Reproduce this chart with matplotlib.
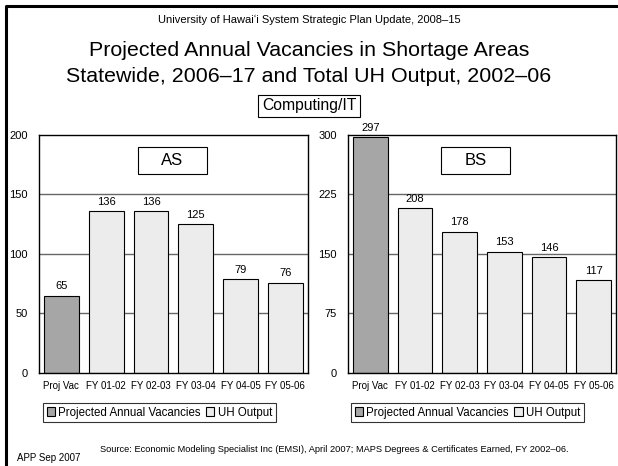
import matplotlib
matplotlib.use("Agg")
import matplotlib.pyplot as plt
from matplotlib.patches import Patch, Rectangle
from matplotlib.lines import Line2D

plt.rcParams['font.family'] = ['Liberation Sans', 'DejaVu Sans']

categories = ["Proj Vac", "FY 01-02", "FY 02-03", "FY 03-04", "FY 04-05", "FY 05-06"]
as_values = [65, 136, 136, 125, 79, 76]
bs_values = [297, 208, 178, 153, 146, 117]
as_ticks = [0, 50, 100, 150, 200]
bs_ticks = [0, 75, 150, 225, 300]

VAC_COLOR = "#a6a6a6"
UH_COLOR = "#ececec"
GRID_COLOR = "#666666"

fig = plt.figure(figsize=(6.18, 4.66), dpi=100)


def draw_panel(rect, values, ticks, label, box_x):
    ax = fig.add_axes(rect)
    colors = [VAC_COLOR] + [UH_COLOR] * (len(values) - 1)
    x = range(len(values))
    for t in ticks[1:-1]:
        ax.axhline(t, color=GRID_COLOR, lw=1, zorder=0)
    ax.bar(x, values, width=0.78, color=colors, edgecolor="black", linewidth=0.8, zorder=2)
    for i, v in enumerate(values):
        ax.text(i, v + ticks[-1] * 0.018, str(v), ha="center", va="bottom", fontsize=8)
    ax.set_xlim(-0.5, len(values) - 0.5)
    ax.set_ylim(ticks[0], ticks[-1])
    ax.set_yticks(ticks)
    ax.set_xticks(list(x))
    ax.set_xticklabels(categories, fontsize=7)
    ax.tick_params(axis="y", labelsize=8, length=0, pad=8)
    ax.tick_params(axis="x", length=0, pad=6)
    for s in ax.spines.values():
        s.set_color("black")
        s.set_linewidth(1)
    ax.add_patch(Rectangle((box_x, 0.836), 0.257, 0.114, transform=ax.transAxes,
                           facecolor="white", edgecolor="black", lw=0.8, zorder=3))
    ax.text(box_x + 0.1285, 0.893, label, transform=ax.transAxes, ha="center",
            va="center", fontsize=12, zorder=4)
    return ax


draw_panel([0.0631, 0.1996, 0.435, 0.5107], as_values, as_ticks, "AS", 0.368)
draw_panel([0.5631, 0.1996, 0.4337, 0.5107], bs_values, bs_ticks, "BS", 0.347)

handles = [Patch(facecolor=VAC_COLOR, edgecolor="black", lw=0.8),
           Patch(facecolor=UH_COLOR, edgecolor="black", lw=0.8)]
labels = ["Projected Annual Vacancies", "UH Output"]
for cx in (0.258, 0.7565):
    leg = fig.legend(handles, labels, loc="center", bbox_to_anchor=(cx, 0.1148), ncol=2,
                     fontsize=8.3, frameon=True, fancybox=False, handlelength=0.7,
                     handleheight=0.7, handletextpad=0.3, columnspacing=0.5,
                     borderpad=0.3, borderaxespad=0)
    leg.get_frame().set_edgecolor("black")
    leg.get_frame().set_linewidth(0.8)

# titles
fig.text(0.5, 1 - 20 / 466, "University of Hawai\u02bbi System Strategic Plan Update, 2008\u201315",
         ha="center", va="center", fontsize=8)
fig.text(0.5, 1 - 51 / 466, "Projected Annual Vacancies in Shortage Areas",
         ha="center", va="center", fontsize=15.4)
fig.text(0.5, 1 - 76 / 466, "Statewide, 2006\u201317 and Total UH Output, 2002\u201306",
         ha="center", va="center", fontsize=15.4)
fig.text(0.5, 1 - 106 / 466, "Computing/IT", ha="center", va="center", fontsize=11.3,
         bbox=dict(boxstyle="square,pad=0.25", facecolor="white", edgecolor="black", lw=0.8))

# footer
fig.text(17 / 618, 1 - 458 / 466, "APP Sep 2007", ha="left", va="center", fontsize=7)
fig.text(100 / 618, 1 - 450 / 466,
         "Source: Economic Modeling Specialist Inc (EMSI), April 2007; MAPS Degrees & Certificates Earned, FY 2002\u201306.",
         ha="left", va="center", fontsize=6.7)

# slide border (top and left)
fig.add_artist(Line2D([6 / 618, 6 / 618, 1], [0, 1 - 6 / 466, 1 - 6 / 466],
                      transform=fig.transFigure, color="black", lw=2.2))

fig.savefig("out.png", dpi=100)
